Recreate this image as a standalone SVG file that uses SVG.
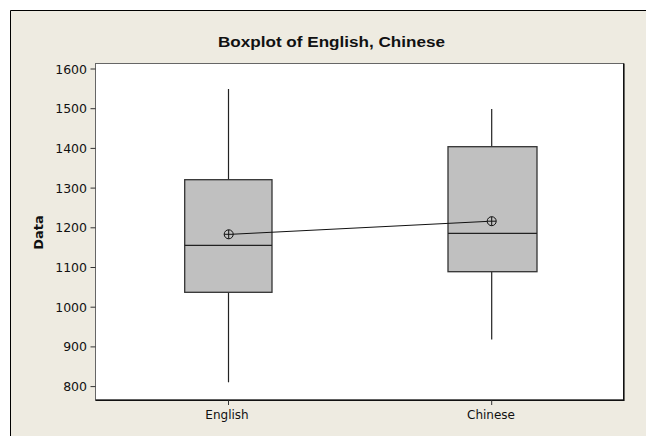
<svg xmlns="http://www.w3.org/2000/svg" width="646" height="436" viewBox="0 0 646 436">
<style>
text{font-family:"DejaVu Sans","Liberation Sans",sans-serif;fill:#111}
.tl{font-size:12.5px;text-anchor:end}
.xl{font-size:12px;text-anchor:middle}
.box{fill:#c0c0c0;stroke:#333;stroke-width:1.3}
.wh{stroke:#222;stroke-width:1.2}
.tk{stroke:#333;stroke-width:1}
.mean{fill:none;stroke:#111;stroke-width:1}
</style>
<rect x="0" y="0" width="646" height="436" fill="#fff"/>
<rect x="10" y="10" width="636" height="426" fill="#eeebe1"/>
<path d="M10.5 436V10.5H646" fill="none" stroke="#000" stroke-width="1"/>
<text x="331.5" y="46.5" font-size="14.5" font-weight="bold" text-anchor="middle" textLength="227" lengthAdjust="spacingAndGlyphs" style="font-family:'Liberation Sans','DejaVu Sans',sans-serif">Boxplot of English, Chinese</text>
<g id="plotarea">
<rect x="95.5" y="63.5" width="528" height="336.5" fill="#fff" stroke="#666" stroke-width="1"/>
<path d="M623.8 63.5V400.3H95.5" fill="none" stroke="#111" stroke-width="1.6"/>
</g>
<g id="yaxis">
<g class="tk">
<line x1="90.5" y1="69" x2="95.5" y2="69"/>
<line x1="90.5" y1="108.7" x2="95.5" y2="108.7"/>
<line x1="90.5" y1="148.4" x2="95.5" y2="148.4"/>
<line x1="90.5" y1="188.1" x2="95.5" y2="188.1"/>
<line x1="90.5" y1="227.8" x2="95.5" y2="227.8"/>
<line x1="90.5" y1="267.5" x2="95.5" y2="267.5"/>
<line x1="90.5" y1="307.2" x2="95.5" y2="307.2"/>
<line x1="90.5" y1="346.9" x2="95.5" y2="346.9"/>
<line x1="90.5" y1="386.6" x2="95.5" y2="386.6"/>
</g>
<text class="tl" x="87" y="73.5">1600</text>
<text class="tl" x="87" y="113.2">1500</text>
<text class="tl" x="87" y="152.9">1400</text>
<text class="tl" x="87" y="192.6">1300</text>
<text class="tl" x="87" y="232.3">1200</text>
<text class="tl" x="87" y="272">1100</text>
<text class="tl" x="87" y="311.7">1000</text>
<text class="tl" x="87" y="351.4">900</text>
<text class="tl" x="87" y="391.1">800</text>
<text transform="translate(42.8,232.5) rotate(-90)" font-size="13" font-weight="bold" text-anchor="middle">Data</text>
</g>
<g id="xaxis">
<line class="tk" x1="228.5" y1="400.3" x2="228.5" y2="405"/>
<line class="tk" x1="491.7" y1="400.3" x2="491.7" y2="405"/>
<text class="xl" x="227" y="419">English</text>
<text class="xl" x="491" y="419">Chinese</text>
</g>
<g id="english">
<line class="wh" x1="228.5" y1="89" x2="228.5" y2="179.7"/>
<line class="wh" x1="228.5" y1="292.3" x2="228.5" y2="382.3"/>
<rect class="box" x="184.7" y="179.7" width="87.3" height="112.6"/>
<line class="wh" x1="184.7" y1="245.3" x2="272" y2="245.3"/>
</g>
<g id="chinese">
<line class="wh" x1="491.7" y1="109" x2="491.7" y2="146.7"/>
<line class="wh" x1="491.7" y1="271.7" x2="491.7" y2="339.5"/>
<rect class="box" x="448" y="146.7" width="89" height="125"/>
<line class="wh" x1="448" y1="233.3" x2="537" y2="233.3"/>
</g>
<g id="connectors">
<line x1="233" y1="234.2" x2="487.2" y2="221.4" stroke="#111" stroke-width="1"/>
</g>
<g id="means">
<g class="mean">
<circle cx="228.7" cy="234.3" r="4.5"/>
<path d="M224.2 234.3H233.2M228.7 229.8V238.8"/>
<circle cx="491.7" cy="221.2" r="4.5"/>
<path d="M487.2 221.2H496.2M491.7 216.7V225.7"/>
</g>
</g>
</svg>
